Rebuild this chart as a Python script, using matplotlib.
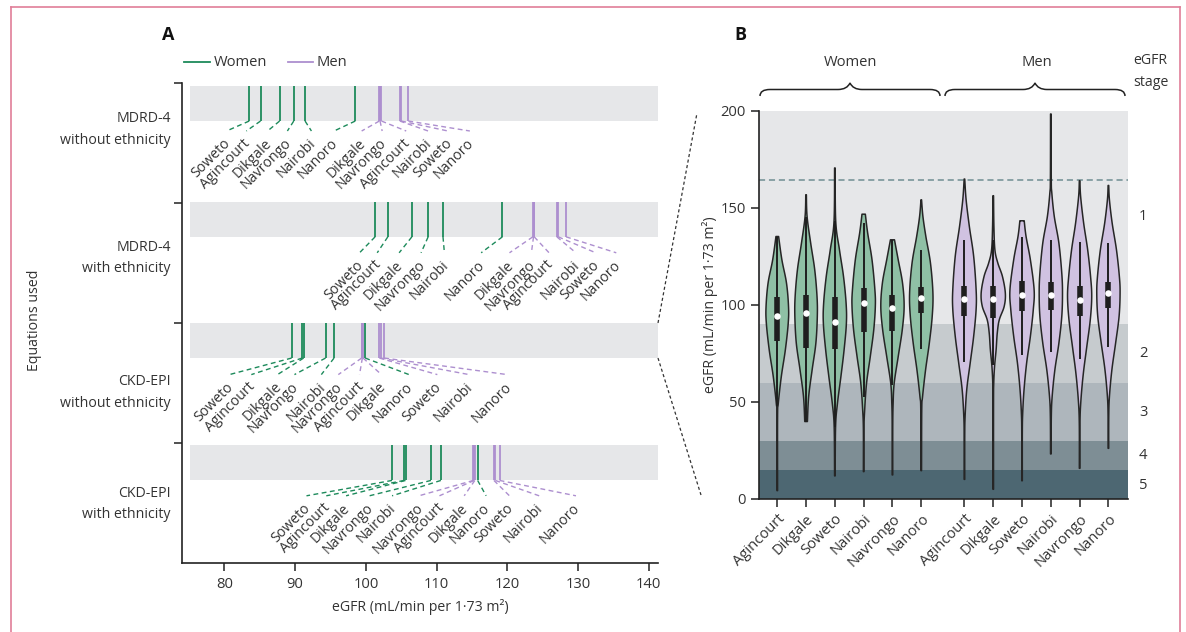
import numpy as np
import matplotlib
matplotlib.use('Agg')
import matplotlib.pyplot as plt
from matplotlib.path import Path
from matplotlib.patches import PathPatch, Rectangle
from matplotlib.lines import Line2D
from matplotlib.transforms import blended_transform_factory

plt.rcParams['font.family'] = ['Open Sans', 'DejaVu Sans']

# ---------------- data ----------------
sites = ['Agincourt', 'Dikgale', 'Soweto', 'Nairobi', 'Navrongo', 'Nanoro']
equations = ['MDRD-4\nwithout ethnicity', 'MDRD-4\nwith ethnicity',
             'CKD-EPI\nwithout ethnicity', 'CKD-EPI\nwith ethnicity']

# Panel A: mean eGFR per site (order of `sites`), one list per equation
women_mean = [
    [85.1, 87.8, 83.5, 91.4, 89.8, 98.5],
    [103.1, 106.5, 101.3, 110.9, 108.8, 119.3],
    [91.0, 91.2, 89.5, 95.5, 94.3, 99.9],
    [105.4, 105.6, 103.7, 110.6, 109.2, 115.8],
]
men_mean = [
    [102.2, 101.9, 105.0, 104.8, 102.0, 106.0],
    [123.8, 123.6, 127.2, 127.0, 123.7, 128.3],
    [99.5, 99.6, 101.9, 102.1, 99.4, 102.6],
    [115.3, 115.4, 118.1, 118.3, 115.2, 118.9],
]
xticks_A = [80, 90, 100, 110, 120, 130, 140]

# Panel B: distribution summaries (women then men, order of `sites`)
v_min = [4.3, 39.9, 11.9, 14.1, 12.4, 14.6, 10.1, 5.0, 9.4, 23.2, 15.8, 26.1]
v_max = [135.2, 156.7, 170.5, 146.7, 133.5, 154.1, 164.8, 156.2, 143.3, 198.3, 163.9, 161.5]
v_q1 = [81.6, 78.0, 77.3, 86.2, 86.6, 96.0, 94.4, 93.2, 97.0, 97.1, 94.4, 98.3]
v_med = [94.3, 95.7, 91.4, 100.9, 98.3, 103.4, 102.9, 102.9, 105.2, 105.2, 102.6, 106.0]
v_q3 = [104.3, 105.1, 104.3, 108.9, 105.1, 109.4, 109.8, 109.8, 112.4, 112.0, 109.8, 112.0]
v_wlo = [48.0, 39.9, 37.3, 52.5, 58.8, 77.1, 70.8, 69.0, 74.2, 75.9, 72.0, 78.1]
v_whi = [135.2, 145.5, 143.0, 142.0, 133.5, 128.3, 133.5, 133.5, 134.9, 133.5, 132.6, 131.8]
# density profiles: (eGFR, relative half-width)
v_profile = [
    [(135.2, .046), (123.2, .16), (111.2, .32), (99.2, .39), (90.5, .38), (76.8, .28), (63.1, .14), (49.3, .035), (42.4, .01), (4.3, .01)],
    [(156.7, .01), (145.5, .035), (131.8, .16), (118.1, .30), (104.3, .38), (94.0, .39), (80.3, .34), (66.5, .21), (52.8, .09), (39.9, .046)],
    [(170.5, .01), (143.0, .03), (128.3, .16), (114.6, .30), (100.8, .39), (90.5, .40), (76.8, .32), (63.1, .21), (49.3, .09), (37.3, .025), (11.9, .01)],
    [(146.7, .058), (136.9, .14), (123.2, .29), (107.7, .39), (99.2, .405), (87.1, .35), (73.4, .23), (59.6, .10), (45.9, .035), (35.6, .01), (14.1, .01)],
    [(133.5, .07), (123.2, .20), (111.2, .35), (99.2, .405), (87.1, .34), (73.4, .20), (59.6, .06), (49.3, .023), (37.3, .01), (12.4, .01)],
    [(154.1, .01), (145.5, .058), (135.2, .16), (121.5, .32), (106.0, .405), (94.0, .38), (80.3, .28), (66.5, .15), (52.8, .046), (45.9, .017), (14.6, .01)],
    [(164.8, .01), (154.1, .058), (140.4, .17), (125.0, .32), (107.9, .405), (97.6, .405), (83.8, .32), (70.1, .20), (56.4, .08), (42.6, .023), (32.3, .01), (10.1, .01)],
    [(156.2, .01), (140.4, .023), (128.3, .058), (121.5, .16), (114.6, .32), (106.0, .42), (99.2, .38), (92.3, .21), (85.5, .14), (76.9, .10), (68.3, .046), (59.6, .017), (49.3, .01), (5.0, .01)],
    [(143.3, .075), (135.2, .14), (123.2, .29), (107.7, .42), (97.4, .39), (83.8, .29), (70.1, .16), (56.4, .07), (44.3, .023), (34.0, .01), (9.4, .01)],
    [(198.3, .01), (165.0, .015), (157.5, .035), (145.5, .12), (131.8, .28), (116.3, .38), (106.0, .405), (94.0, .38), (80.3, .28), (66.5, .14), (52.8, .046), (42.6, .017), (23.2, .01)],
    [(163.9, .01), (155.8, .035), (142.1, .14), (128.3, .28), (114.6, .38), (104.3, .42), (92.3, .37), (78.6, .25), (64.8, .13), (51.1, .046), (39.0, .012), (15.8, .01)],
    [(161.5, .01), (154.1, .035), (142.1, .13), (128.3, .28), (114.6, .38), (106.0, .405), (94.0, .37), (80.3, .25), (66.5, .12), (52.8, .035), (42.6, .012), (26.1, .01)],
]
stage_bounds = [0, 15, 30, 60, 90, 200]
stage_names = ['5', '4', '3', '2', '1']
upper_ref = 164.4
yticks_B = [0, 50, 100, 150, 200]

# ---------------- layout / style ----------------
W, H = 1186, 632
def fx(px): return px / W
def fy(py): return 1 - py / H

C_W = '#1d8a5b'
C_M = '#ad8fcf'
F_W = '#8fc0a5'
F_M = '#d0c2e1'
TXT = '#333333'
FS = 10.2
FT = 10.6

fig = plt.figure(figsize=(W / 100, H / 100), dpi=100)

# pink frame
for xa, xb, ya, yb in [(11, 11, 7, 640), (1180, 1180, 7, 640), (11, 1180, 7, 7)]:
    fig.add_artist(Line2D([fx(xa), fx(xb)], [fy(ya), fy(yb)], transform=fig.transFigure,
                          color='#e07e98', lw=1.2))

# ---------------- Panel A ----------------
axA = fig.add_axes([fx(182), fy(563), fx(658) - fx(182), fy(83) - fy(563)])
axA.set_xlim(74.0, 141.3)
axA.set_ylim(4.0, 0)
for s in ['top', 'right']:
    axA.spines[s].set_visible(False)
for s in ['left', 'bottom']:
    axA.spines[s].set_color('#222222')
    axA.spines[s].set_linewidth(1.2)
axA.set_xticks(xticks_A)
axA.set_yticks([0, 1, 2, 3])
axA.set_yticklabels([])
axA.tick_params(axis='both', direction='out', length=6, width=1.1, color='#222222',
                labelsize=FT, labelcolor=TXT)
axA.tick_params(axis='x', pad=4)
axA.set_xlabel('eGFR (mL/min per 1·73 m²)', fontsize=FS, color=TXT, labelpad=5)

slots = [
    [80.3, 83.1, 86.1, 88.9, 92.3, 95.5, 99.4, 102.3, 105.7, 108.8, 111.6, 114.7],
    [99.1, 101.6, 104.7, 107.8, 111.1, 116.3, 120.3, 123.4, 125.9, 129.7, 132.5, 135.4],
    [80.7, 83.8, 87.5, 89.9, 93.7, 96.1, 99.1, 102.2, 106.1, 110.1, 114.6, 120.0],
    [91.6, 94.4, 97.2, 100.5, 103.7, 107.5, 110.4, 113.9, 117.0, 120.3, 124.5, 129.7],
]
band_top = [0.025, 0.99, 2.0, 3.02]
band_h = 0.292
label_y = [0.40, 0.415, 0.43, 0.44]
row_label_y = [0.39, 1.46, 2.58, 3.51]

for i in range(4):
    bt = band_top[i]
    bb = bt + band_h
    axA.add_patch(Rectangle((75.2, bt), 141.3 - 75.2, band_h, facecolor='#e6e7e9',
                            edgecolor='none', zorder=1))
    entries = [(v, sites[k], C_W) for k, v in enumerate(women_mean[i])] + \
              [(v, sites[k], C_M) for k, v in enumerate(men_mean[i])]
    entries.sort(key=lambda e: e[0])
    ly = i + label_y[i]
    for j, (v, name, col) in enumerate(entries):
        axA.plot([v, v], [bt, bb], color=col, lw=1.3, zorder=3, solid_capstyle='butt')
        lx = slots[i][j]
        axA.plot([v, lx], [bb, ly], color=col, lw=1.0, ls=(0, (3.5, 2.5)), zorder=3)
        axA.annotate(name, xy=(lx, ly), xytext=(-2.5, -3.5), textcoords='offset points',
                     rotation=45, ha='right', va='top', rotation_mode='anchor',
                     fontsize=FS, color=TXT, zorder=4)

trA = blended_transform_factory(fig.transFigure, axA.transData)
for i, eq in enumerate(equations):
    axA.text(fx(171), row_label_y[i], eq, transform=trA, ha='right', va='center',
             multialignment='right', fontsize=FS, color=TXT, linespacing=1.6)

fig.text(fx(35), fy(320), 'Equations used', rotation=90, ha='center', va='center',
         fontsize=FS, color=TXT)
fig.text(fx(168), fy(35), 'A', fontsize=13, fontweight='bold', ha='center', va='center', color='#111111')

# legend
fig.add_artist(Line2D([fx(184), fx(210)], [fy(62), fy(62)], transform=fig.transFigure, color=C_W, lw=1.3))
fig.text(fx(214), fy(62), 'Women', fontsize=FT, color=TXT, va='center', ha='left')
fig.add_artist(Line2D([fx(288), fx(313)], [fy(62), fy(62)], transform=fig.transFigure, color=C_M, lw=1.3))
fig.text(fx(317), fy(62), 'Men', fontsize=FT, color=TXT, va='center', ha='left')

# zoom connectors
fig.add_artist(Line2D([fx(658), fx(697)], [fy(323), fy(113)], transform=fig.transFigure,
                      color='#333333', lw=0.9, ls=(0, (2.5, 2))))
fig.add_artist(Line2D([fx(658), fx(701)], [fy(358), fy(495)], transform=fig.transFigure,
                      color='#333333', lw=0.9, ls=(0, (2.5, 2))))

# ---------------- Panel B ----------------
axB = fig.add_axes([fx(759), fy(499), fx(1128) - fx(759), fy(110.7) - fy(499)])
axB.set_ylim(0, 200)
axB.set_xlim(-0.635, 12.18)
stage_cols = ['#4d6772', '#7e8e95', '#aeb6bc', '#c6cbce', '#e6e7e9']
for k in range(5):
    axB.axhspan(stage_bounds[k], stage_bounds[k + 1], color=stage_cols[k], lw=0, zorder=0)
axB.axhline(upper_ref, color='#6f8d92', lw=1.1, ls=(0, (4, 2.5)), zorder=1)

positions = [0, 1, 2, 3, 4, 5, 6.5, 7.5, 8.5, 9.5, 10.5, 11.5]


def catmull(pts, n=14):
    pts = np.asarray(pts, dtype=float)
    P = np.vstack([pts[0], pts, pts[-1]])
    out = []
    t = np.linspace(0, 1, n, endpoint=False)[:, None]
    for i in range(1, len(P) - 2):
        p0, p1, p2, p3 = P[i - 1], P[i], P[i + 1], P[i + 2]
        seg = 0.5 * ((2 * p1) + (-p0 + p2) * t + (2 * p0 - 5 * p1 + 4 * p2 - p3) * t ** 2
                     + (-p0 + 3 * p1 - 3 * p2 + p3) * t ** 3)
        out.append(seg)
    out.append(pts[-1:])
    return np.vstack(out)


for k, pos in enumerate(positions):
    prof = catmull(v_profile[k])
    vv = prof[:, 0]
    hw = np.clip(prof[:, 1], 0.008, None)
    fc = F_W if k < 6 else F_M
    xs = np.r_[pos + hw, (pos - hw)[::-1]]
    ys = np.r_[vv, vv[::-1]]
    axB.fill(xs, ys, facecolor=fc, edgecolor='#262626', lw=1.1, zorder=2, joinstyle='round')
    axB.plot([pos, pos], [v_wlo[k], v_whi[k]], color='#1e1e1e', lw=1.4, zorder=3,
             solid_capstyle='butt')
    axB.plot([pos, pos], [v_q1[k], v_q3[k]], color='#1e1e1e', lw=4.0, zorder=3,
             solid_capstyle='butt')
    axB.scatter([pos], [v_med[k]], s=22, color='white', zorder=4, linewidths=0)

for s in ['top', 'right']:
    axB.spines[s].set_visible(False)
for s in ['left', 'bottom']:
    axB.spines[s].set_color('#222222')
    axB.spines[s].set_linewidth(1.2)
axB.set_yticks(yticks_B)
axB.set_xticks(positions)
axB.set_xticklabels(sites + sites, rotation=45, ha='right', rotation_mode='anchor')
axB.tick_params(axis='both', direction='out', length=6, width=1.1, color='#222222',
                labelsize=FT, labelcolor=TXT)
axB.tick_params(axis='x', pad=3)
axB.set_ylabel('eGFR (mL/min per 1·73 m²)', fontsize=FS, color=TXT, labelpad=2)

trB = blended_transform_factory(axB.transAxes, axB.transData)
stage_y = [6.7, 22.2, 44.8, 74.7, 145.4]
for k in range(5):
    axB.text(1.03, stage_y[k], stage_names[k], transform=trB, ha='left', va='center',
             fontsize=FT, color=TXT)
fig.text(fx(1133), fy(61), 'eGFR', fontsize=FS, color=TXT, ha='left', va='center')
fig.text(fx(1133), fy(82), 'stage', fontsize=FS, color=TXT, ha='left', va='center')
fig.text(fx(740), fy(35), 'B', fontsize=13, fontweight='bold', ha='center', va='center', color='#111111')


def brace(x0, x1, ytop=83, ymid=89.5, ybot=96):
    xc = (x0 + x1) / 2
    pts = [(x0, ybot), (x0, ymid), (x0 + 10, ymid),
           (xc - 12, ymid),
           (xc - 3, ymid), (xc, ytop),
           (xc + 3, ymid), (xc + 12, ymid),
           (x1 - 10, ymid),
           (x1, ymid), (x1, ybot)]
    codes = [Path.MOVETO, Path.CURVE3, Path.CURVE3, Path.LINETO, Path.CURVE3, Path.CURVE3,
             Path.CURVE3, Path.CURVE3, Path.LINETO, Path.CURVE3, Path.CURVE3]
    verts = [(fx(a), fy(b)) for a, b in pts]
    fig.add_artist(PathPatch(Path(verts, codes), transform=fig.transFigure, fill=False,
                             edgecolor='#222222', lw=1.1))


brace(760, 940)
brace(945, 1125)
fig.text(fx(851), fy(63), 'Women', fontsize=FT, color=TXT, ha='center', va='center')
fig.text(fx(1037), fy(63), 'Men', fontsize=FT, color=TXT, ha='center', va='center')

fig.savefig('out.png', dpi=100)
